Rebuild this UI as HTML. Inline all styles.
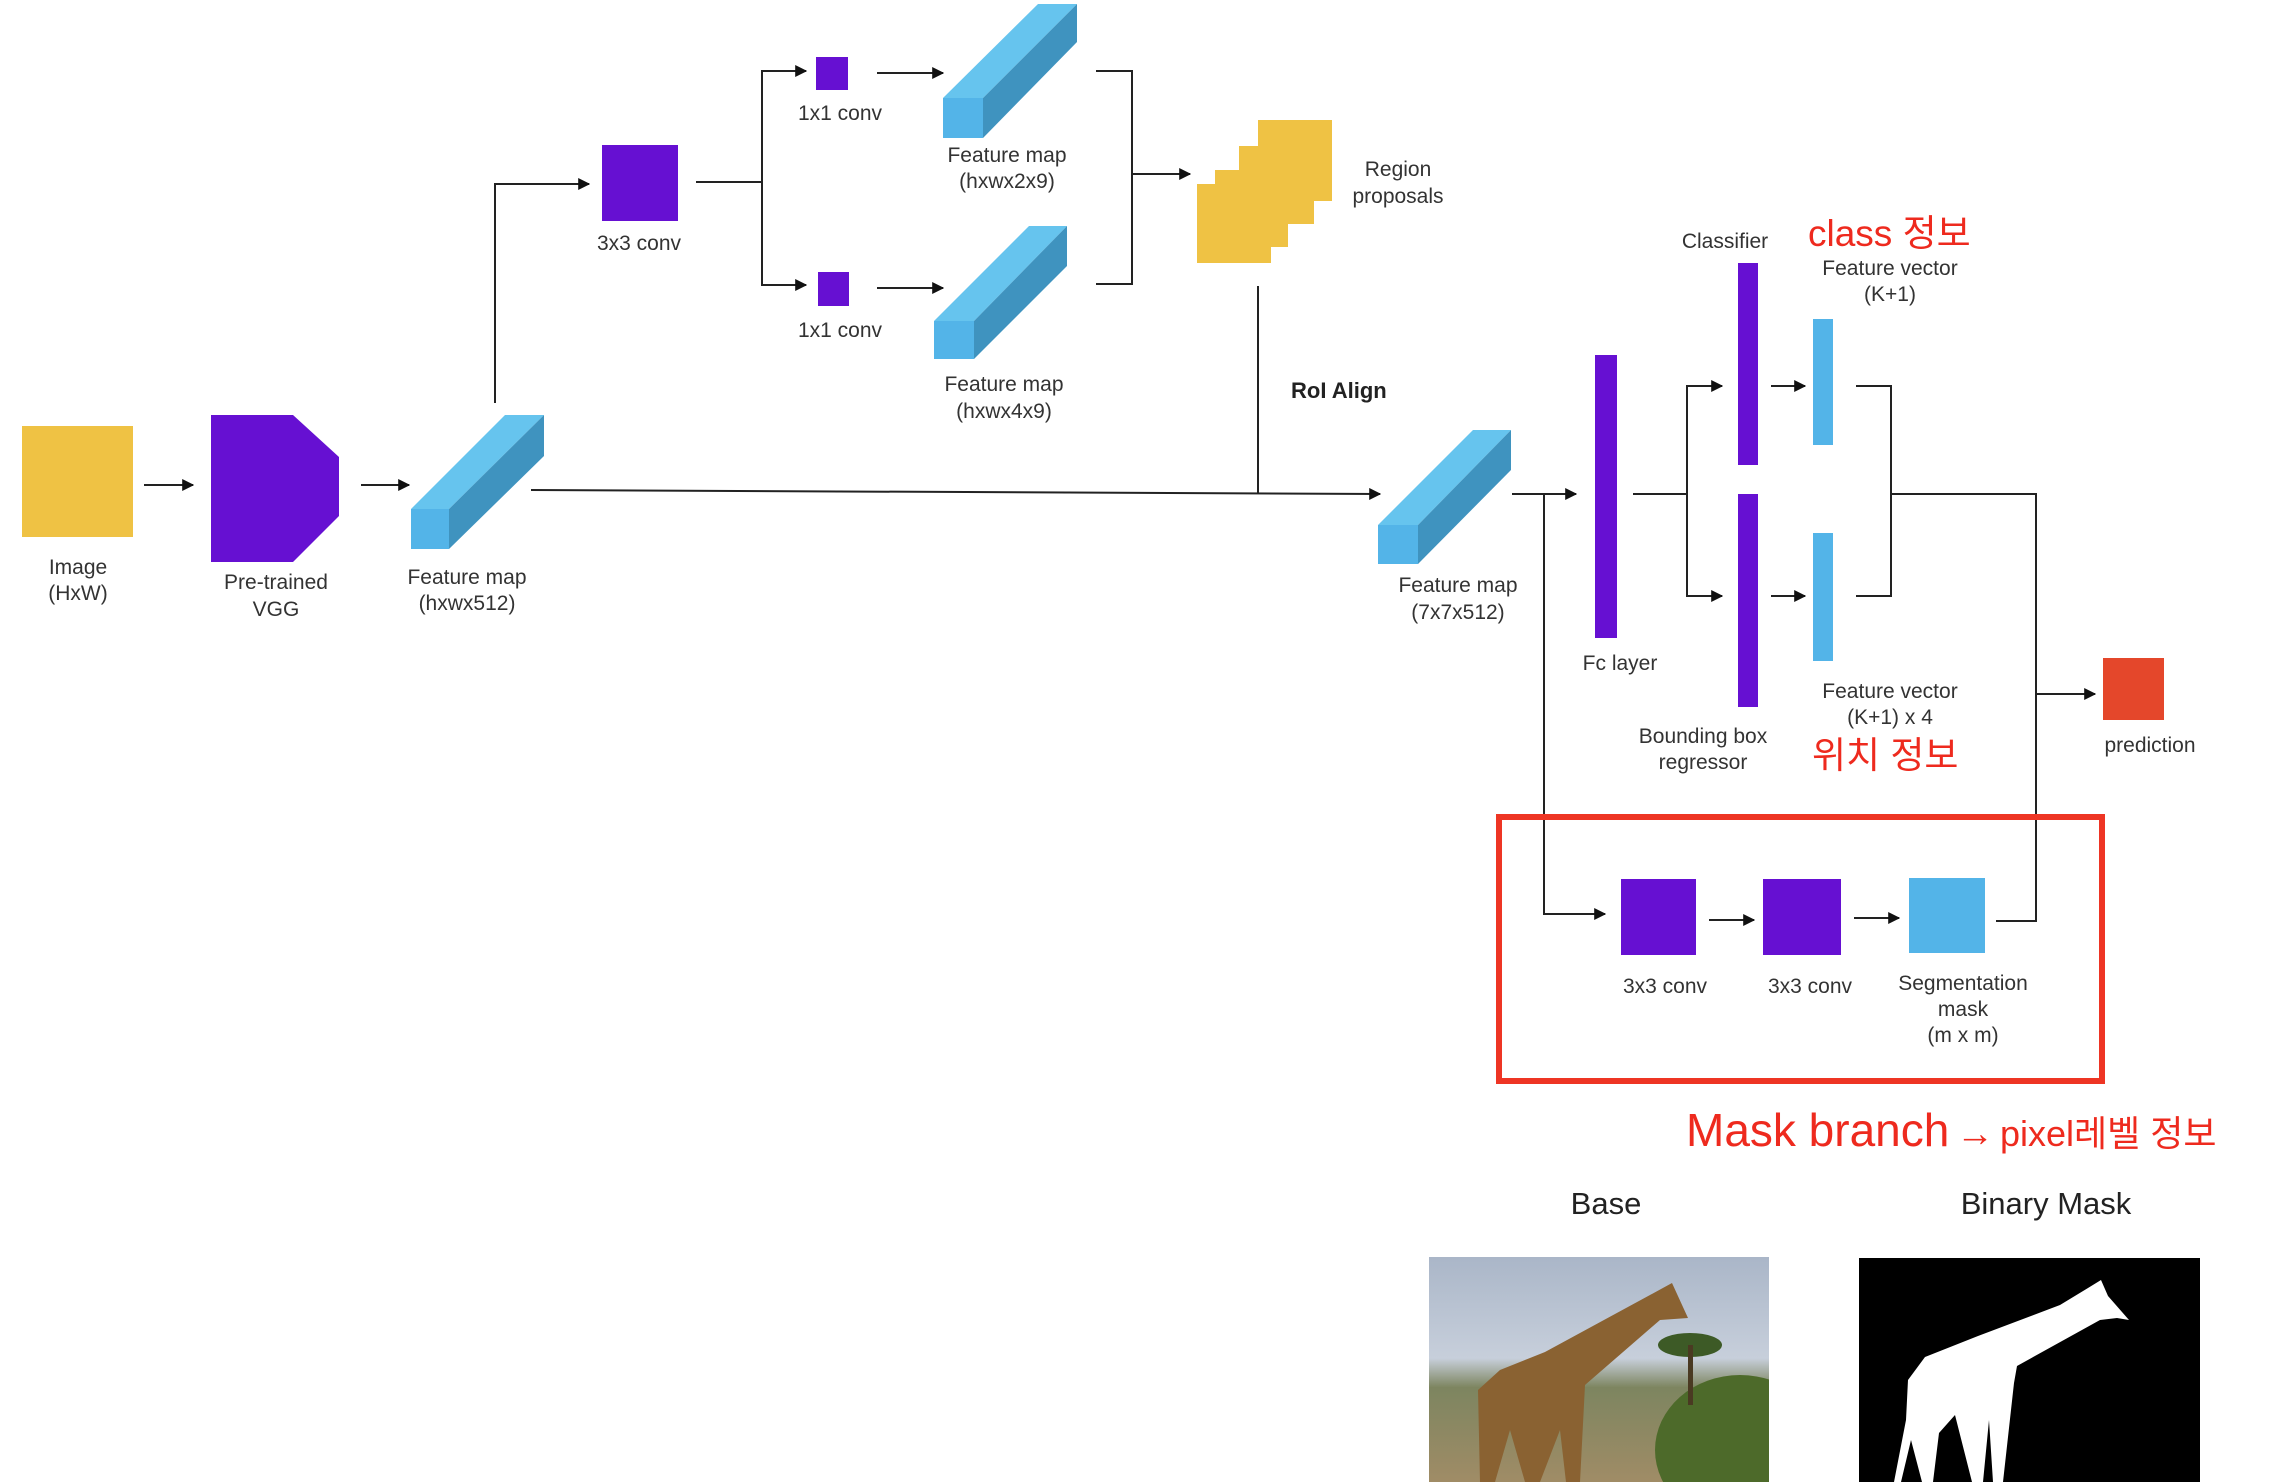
<!DOCTYPE html>
<html><head><meta charset="utf-8"><style>
html,body{margin:0;padding:0;background:#fff;}
svg{display:block;}
text{font-family:"Liberation Sans","Noto Sans CJK KR",sans-serif;}
</style></head><body>
<svg width="2280" height="1482" viewBox="0 0 2280 1482" xmlns="http://www.w3.org/2000/svg">
<defs>
<marker id="a" viewBox="0 0 10 10" refX="9" refY="5" markerWidth="6" markerHeight="6" orient="auto"><path d="M0,0L10,5L0,10z" fill="#111"/></marker>
<linearGradient id="sky" x1="0" y1="0" x2="0" y2="1"><stop offset="0" stop-color="#aab6c8"/><stop offset="0.45" stop-color="#c7cfdb"/><stop offset="0.58" stop-color="#7d8560"/><stop offset="1" stop-color="#a08c66"/></linearGradient>
<clipPath id="ph"><rect x="1429" y="1257" width="340" height="225"/></clipPath>
</defs>
<g stroke="#222" stroke-width="2" fill="none">
<line x1="144" y1="485" x2="193" y2="485" marker-end="url(#a)"/>
<line x1="361" y1="485" x2="409" y2="485" marker-end="url(#a)"/>
<polyline points="495,403 495,184 589,184" marker-end="url(#a)"/>
<polyline points="696,182 762,182"/>
<polyline points="806,71 762,71 762,285 806,285"/>
<line x1="800" y1="71" x2="806" y2="71" marker-end="url(#a)"/>
<line x1="800" y1="285" x2="806" y2="285" marker-end="url(#a)"/>
<line x1="877" y1="73" x2="943" y2="73" marker-end="url(#a)"/>
<line x1="877" y1="288" x2="943" y2="288" marker-end="url(#a)"/>
<polyline points="1096,71 1132,71 1132,284 1096,284"/>
<line x1="1132" y1="174" x2="1190" y2="174" marker-end="url(#a)"/>
<line x1="531" y1="490" x2="1380" y2="494" marker-end="url(#a)"/>
<line x1="1258" y1="286" x2="1258" y2="493"/>
<line x1="1512" y1="494" x2="1576" y2="494" marker-end="url(#a)"/>
<polyline points="1544,494 1544,914 1605,914" marker-end="url(#a)"/>
<line x1="1633" y1="494" x2="1687" y2="494"/>
<polyline points="1722,386 1687,386 1687,596 1722,596"/>
<line x1="1715" y1="386" x2="1722" y2="386" marker-end="url(#a)"/>
<line x1="1715" y1="596" x2="1722" y2="596" marker-end="url(#a)"/>
<line x1="1771" y1="386" x2="1805" y2="386" marker-end="url(#a)"/>
<line x1="1771" y1="596" x2="1805" y2="596" marker-end="url(#a)"/>
<polyline points="1856,386 1891,386 1891,596 1856,596"/>
<polyline points="1891,494 2036,494 2036,921 1996,921"/>
<line x1="2036" y1="694" x2="2095" y2="694" marker-end="url(#a)"/>
<line x1="1709" y1="920" x2="1754" y2="920" marker-end="url(#a)"/>
<line x1="1854" y1="918" x2="1899" y2="918" marker-end="url(#a)"/>
</g>
<rect x="22" y="426" width="111" height="111" fill="#efc244"/>
<polygon points="211,415 293,415 339,457 339,516 293,562 211,562" fill="#6610d2"/>
<g>
<rect x="411" y="509" width="38" height="40" fill="#53b4e8"/>
<polygon points="411,509 505,415 544,415 449,509" fill="#66c4ee"/>
<polygon points="449,509 544,415 544,456 449,549" fill="#3f93bf"/>
</g>
<rect x="602" y="145" width="76" height="76" fill="#6610d2"/>
<rect x="816" y="57" width="32" height="33" fill="#6610d2"/>
<rect x="818" y="272" width="31" height="34" fill="#6610d2"/>
<g>
<rect x="943" y="98" width="40" height="40" fill="#53b4e8"/>
<polygon points="943,98 1038,4 1077,4 983,98" fill="#66c4ee"/>
<polygon points="983,98 1077,4 1077,42 983,138" fill="#3f93bf"/>
</g>
<g>
<rect x="934" y="321" width="40" height="38" fill="#53b4e8"/>
<polygon points="934,321 1029,226 1067,226 974,321" fill="#66c4ee"/>
<polygon points="974,321 1067,226 1067,266 974,359" fill="#3f93bf"/>
</g>
<polygon points="1258,120 1332,120 1332,201 1314,201 1314,224 1288,224 1288,247 1271,247 1271,263 1197,263 1197,184 1215,184 1215,170 1239,170 1239,146 1258,146" fill="#efc244"/>
<g>
<rect x="1378" y="525" width="40" height="39" fill="#53b4e8"/>
<polygon points="1378,525 1473,430 1511,430 1418,525" fill="#66c4ee"/>
<polygon points="1418,525 1511,430 1511,470 1418,564" fill="#3f93bf"/>
</g>
<rect x="1595" y="355" width="22" height="283" fill="#6610d2"/>
<rect x="1738" y="263" width="20" height="202" fill="#6610d2"/>
<rect x="1738" y="494" width="20" height="213" fill="#6610d2"/>
<rect x="1813" y="319" width="20" height="126" fill="#53b4e8"/>
<rect x="1813" y="533" width="20" height="128" fill="#53b4e8"/>
<rect x="2103" y="658" width="61" height="62" fill="#e4472b"/>
<rect x="1499" y="817" width="603" height="264" fill="none" stroke="#ee3524" stroke-width="6"/>
<rect x="1621" y="879" width="75" height="76" fill="#6610d2"/>
<rect x="1763" y="879" width="78" height="76" fill="#6610d2"/>
<rect x="1909" y="878" width="76" height="75" fill="#53b4e8"/>
<g font-size="21" fill="#333" text-anchor="middle">
<text x="78" y="574">Image</text><text x="78" y="600">(HxW)</text>
<text x="276" y="589">Pre-trained</text><text x="276" y="616">VGG</text>
<text x="467" y="584">Feature map</text><text x="467" y="610">(hxwx512)</text>
<text x="639" y="250">3x3 conv</text>
<text x="840" y="120">1x1 conv</text>
<text x="840" y="337">1x1 conv</text>
<text x="1007" y="162">Feature map</text><text x="1007" y="188">(hxwx2x9)</text>
<text x="1004" y="391">Feature map</text><text x="1004" y="418">(hxwx4x9)</text>
<text x="1398" y="176">Region</text><text x="1398" y="203">proposals</text>
<text x="1458" y="592">Feature map</text><text x="1458" y="619">(7x7x512)</text>
<text x="1620" y="670">Fc layer</text>
<text x="1725" y="248">Classifier</text>
<text x="1703" y="743">Bounding box</text><text x="1703" y="769">regressor</text>
<text x="1890" y="275">Feature vector</text><text x="1890" y="301">(K+1)</text>
<text x="1890" y="698">Feature vector</text><text x="1890" y="724">(K+1) x 4</text>
<text x="2150" y="752">prediction</text>
<text x="1665" y="993">3x3 conv</text>
<text x="1810" y="993">3x3 conv</text>
<text x="1963" y="990">Segmentation</text><text x="1963" y="1016">mask</text><text x="1963" y="1042">(m x m)</text>
</g>
<text x="1291" y="398" font-size="22" font-weight="bold" fill="#222">RoI Align</text>
<g fill="#ee2a1e">
<text x="1808" y="246" font-size="37">class 정보</text>
<text x="1812" y="768" font-size="37">위치 정보</text>
<text x="1686" y="1146" font-size="46">Mask branch</text>
<text x="1956" y="1146" font-size="38">→</text>
<text x="2000" y="1146" font-size="36">pixel레벨 정보</text>
</g>
<text x="1606" y="1214" font-size="31" fill="#222" text-anchor="middle">Base</text>
<text x="2046" y="1214" font-size="31" fill="#222" text-anchor="middle">Binary Mask</text>
<g clip-path="url(#ph)">
<rect x="1429" y="1257" width="340" height="225" fill="url(#sky)"/>
<ellipse cx="1740" cy="1450" rx="85" ry="75" fill="#4d6a2a"/>
<ellipse cx="1690" cy="1345" rx="32" ry="12" fill="#3d5a26"/>
<rect x="1688" y="1345" width="5" height="60" fill="#4a3a22"/>
<polygon points="1672,1283 1688,1318 1660,1320 1585,1385 1580,1482 1566,1482 1560,1430 1540,1482 1525,1482 1510,1430 1495,1482 1480,1482 1478,1390 1500,1370 1545,1352 1650,1295" fill="#8a6232"/>
</g>
<rect x="1859" y="1258" width="341" height="224" fill="#000"/>
<polygon points="2101,1280 2108,1296 2129,1320 2117,1318 2100,1320 2017,1366 2014,1383 2003,1482 1993,1482 1989,1420 1983,1482 1972,1482 1955,1415 1939,1433 1933,1482 1922,1482 1911,1440 1901,1482 1894,1482 1906,1420 1908,1380 1925,1357 1978,1336 2060,1305 2088,1288" fill="#fff"/>
</svg>
</body></html>
